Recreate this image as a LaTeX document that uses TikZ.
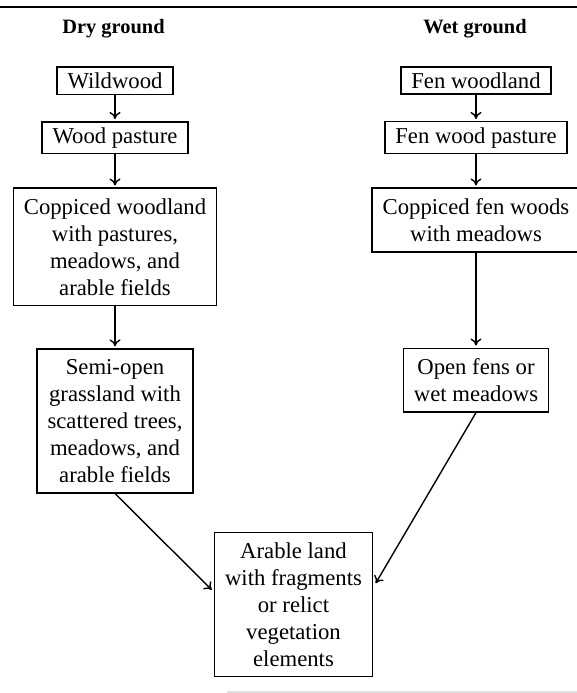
\documentclass[tikz,border=0pt]{standalone}
\usepackage{fontspec}
\setmainfont{Liberation Serif}
\usetikzlibrary{arrows.meta,positioning}

\tikzset{
  stage/.style={draw, line width=0.75pt, align=center, inner xsep=5.25pt, inner ysep=2.85pt},
  bigstage/.style={stage, inner ysep=5.1pt},
  head/.style={font=\fontsize{10.2}{12}\selectfont\bfseries, anchor=base},
}

\begin{document}
\begin{tikzpicture}[x=0.5pt, y=-0.5pt, font=\fontsize{11.35}{13.5}\selectfont]
      \useasboundingbox (0,0) rectangle (577,693);
      \draw[line width=1pt] (0,6.5) -- (577,6.5);
      \draw[gray!25, line width=0.6pt] (227,692) -- (577,692);

      \node[head] (dry) at (113.5,33.5) {Dry ground};
      \node[head] (wet) at (475,33.5) {Wet ground};

      % dry ground column
      \node[stage] (wild) at (115,80.5) {Wildwood};
      \node[stage] (woodpast) [below=13pt of wild] {Wood pasture};
      \node[bigstage] (copp) [below=16.5pt of woodpast] {Coppiced woodland\\with pastures,\\meadows, and\\arable fields};
      \node[bigstage] (semi) [below=21pt of copp] {Semi-open\\grassland with\\scattered trees,\\meadows, and\\arable fields};

      % wet ground column
      \node[stage] (fen) at (476,80.5) {Fen woodland};
      \node[stage] (fenpast) [below=13pt of fen] {Fen wood pasture};
      \node[bigstage] (fencopp) [below=16.5pt of fenpast] {Coppiced fen woods\\with meadows};
      \node[bigstage] (open) [below=47.5pt of fencopp] {Open fens or\\wet meadows};

      \node[bigstage] (arable) at (293.5,604.5) {Arable land\\with fragments\\or relict\\vegetation\\elements};

      \begin{scope}
        [every edge/.style={draw, line width=0.7pt, shorten >=1pt, -{To[length=3.5pt,width=5.5pt]}}]
        \path (wild) edge (woodpast);
        \path (woodpast) edge (copp);
        \path (copp) edge (semi);
        \path (fen) edge (fenpast);
        \path (fenpast) edge (fencopp);
        \path (fencopp) edge (open);
        \path (semi.south) edge[shorten >=1.5pt] (arable.171);
        \path (open.south) edge[shorten >=2.5pt] (arable.12);
      \end{scope}
\end{tikzpicture}
\end{document}
